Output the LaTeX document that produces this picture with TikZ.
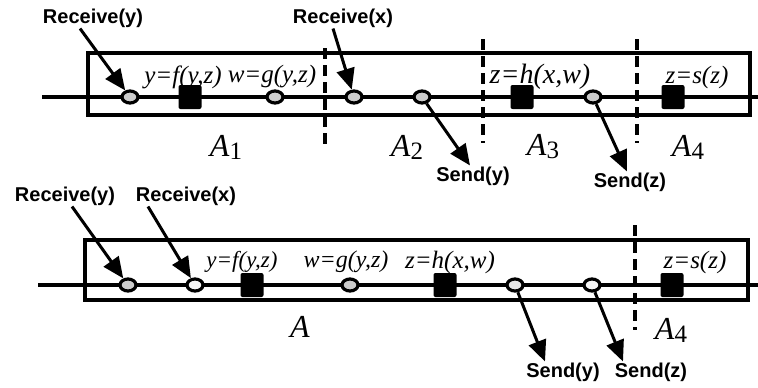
\documentclass[tikz,border=0pt]{standalone}
\usepackage{fontspec}
\setmainfont{Liberation Serif}
\setsansfont{Liberation Sans}
\usetikzlibrary{shapes.geometric,arrows.meta}
\newcommand{\areg}[1]{A\raisebox{-3pt}{\upshape\fontsize{25}{25}\selectfont #1}}
\begin{document}
\begin{tikzpicture}[x = 1pt, y = -1pt,
  msg/.style = {draw, ellipse, line width = 3.2pt, fill = gray!40, minimum width = 16pt, minimum height = 12pt, inner sep = 0pt},
  msgw/.style = {msg, fill = gray!8},
  op/.style = {rectangle, fill = black, rounded corners = 2pt, minimum width = 23pt, minimum height = 24pt, inner sep = 0pt},
  lbl/.style = {font = \sffamily\bfseries\fontsize{20}{20}\selectfont, inner sep = 1pt},
  expr/.style = {font = \itshape\fontsize{25}{25}\selectfont, inner sep = 0pt},
  reg/.style = {font = \itshape\fontsize{32}{32}\selectfont, inner sep = 0pt},
  cut/.style = {line width = 4.5pt, dash pattern = on 11pt off 6pt},
  arr/.style = {-{Triangle[length = 21pt, width = 18pt]}, line width = 3pt}]
\useasboundingbox (0,0) rectangle (758,388);
\draw[line width = 3.4pt] (42,97) -- (758,97);
\draw[line width = 3.4pt] (88,53) rectangle (750,115);
\draw[cut] (325,48) -- (325,145);
\draw[cut] (483,39) -- (483,143);
\draw[cut] (637,39) -- (637,143);
\node[expr] at (183,77) (e1) {y=f(y,z)};
\node[expr] at (272,77) (e2) {w=g(y,z)};
\node[expr, font = \itshape\fontsize{28}{28}\selectfont] at (540,77) (e3) {z=h(x,w)};
\node[expr] at (697,77) (e4) {z=s(z)};
\node[msg] at (130,97) (c1) {};
\node[op] at (190,97) (s1) {};
\node[msg] at (275,97) (c2) {};
\node[msg] at (354,97) (c3) {};
\node[msg] at (422,97) (c4) {};
\node[op] at (522,97) (s2) {};
\node[msg] at (593,97) (c5) {};
\node[op] at (673,97) (s3) {};
\node[reg] at (226,147) (a1) {\areg{1}};
\node[reg] at (407,147) (a2) {\areg{2}};
\node[reg] at (543,147) (a3) {\areg{3}};
\node[reg] at (688,147) (a4) {\areg{4}};
\node[lbl] at (93,18) (ry) {Receive(y)};
\node[lbl] at (343,18) (rx) {Receive(x)};
\node[lbl] at (473,176) (sy) {Send(y)};
\node[lbl] at (630,182) (sz) {Send(z)};
\draw[arr] ([xshift = -13pt]ry.south) -- (c1);
\draw[arr] ([xshift = -10pt]rx.south) -- (c3);
\draw[arr] (c4) -- ([xshift = -3pt]sy.north);
\draw[arr] (c5) -- ([xshift = -3pt]sz.north);
\draw[line width = 3.4pt] (38,285) -- (758,285);
\draw[line width = 3.4pt] (85,240) rectangle (748,300);
\draw[cut] (635,225) -- (635,330);
\node[expr, font = \itshape\fontsize{23}{23}\selectfont] at (242,262) (f1) {y=f(y,z)};
\node[expr, font = \itshape\fontsize{24}{24}\selectfont] at (346,262) (f2) {w=g(y,z)};
\node[expr] at (450,262) (f3) {z=h(x,w)};
\node[expr] at (695,262) (f4) {z=s(z)};
\node[msg] at (128,285) (d1) {};
\node[msgw] at (195,285) (d2) {};
\node[op] at (252,285) (t1) {};
\node[msg] at (350,285) (d3) {};
\node[op] at (445,285) (t2) {};
\node[msg, fill = gray!20] at (515,285) (d4) {};
\node[msgw] at (592,285) (d5) {};
\node[op] at (672,285) (t3) {};
\node[reg] at (300,327) (b0) {A};
\node[reg] at (671,330) (b4) {\areg{4}};
\node[lbl] at (65,196) (ry2) {Receive(y)};
\node[lbl] at (186,196) (rx2) {Receive(x)};
\node[lbl] at (563,372) (sy2) {Send(y)};
\node[lbl] at (651,372) (sz2) {Send(z)};
\draw[arr] ([xshift = 7pt]ry2.south) -- (d1);
\draw[arr] ([xshift = -38pt]rx2.south) -- (d2);
\draw[arr] (d4) -- ([xshift = -18pt]sy2.north);
\draw[arr] (d5) -- ([xshift = -28pt]sz2.north);
\end{tikzpicture}
\end{document}
